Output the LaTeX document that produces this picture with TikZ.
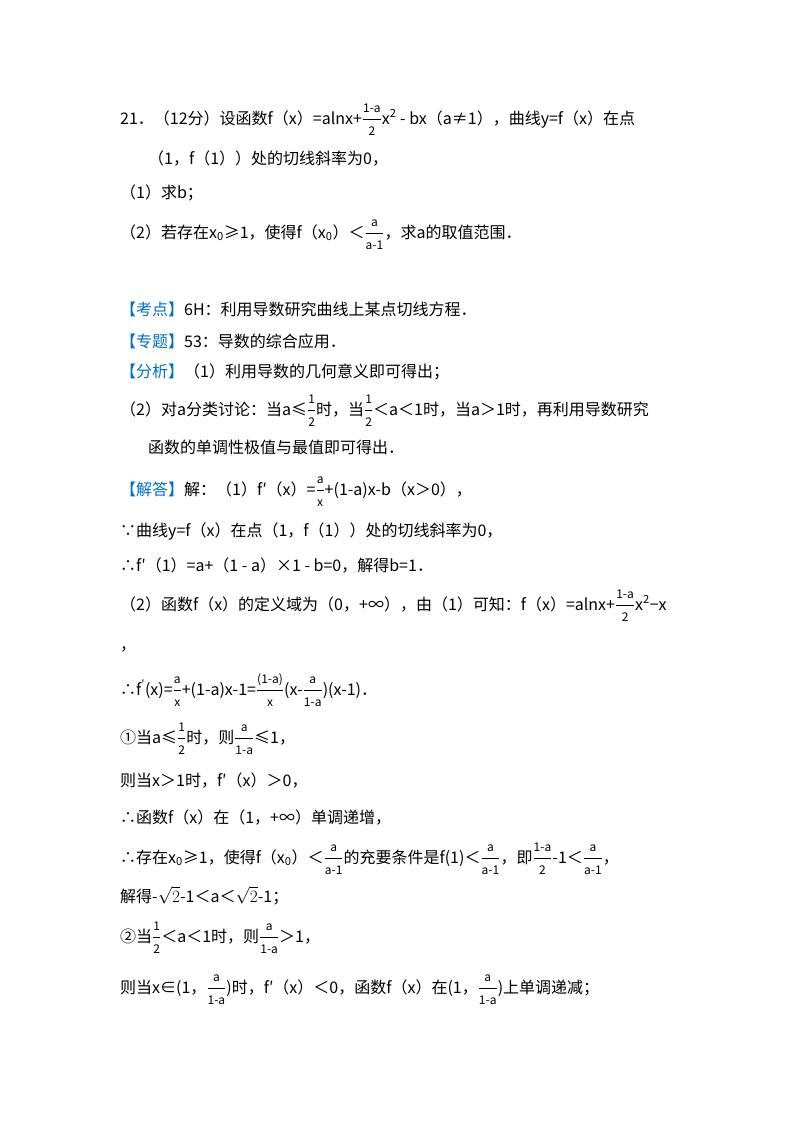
\documentclass[tikz,border=0pt]{standalone}
\usepackage{amsmath,amssymb}
\usepackage{fontspec}
\setmainfont{Noto Sans CJK SC}
\definecolor{kb}{RGB}{0,112,192}
\newcommand{\fr}[2]{$\dfrac{\text{\fontsize{12}{13}\selectfont #1}}{\text{\fontsize{12}{13}\selectfont #2}}$}
\begin{document}
\begin{tikzpicture}[x=1pt,y=-1pt,every node/.style={anchor=base west,inner sep=0pt,font=\fontsize{16}{18}\selectfont}]
\useasboundingbox[fill=white] (0,0) rectangle (800,1132);
\node (l1) at (120,124) {21．（12分）设函数f（x）=alnx+\fr{1-a}{2}x\textsuperscript{2} - bx（a≠1），曲线y=f（x）在点};
\node (l2) at (148,164) {（1，f（1））处的切线斜率为0，};
\node (l3) at (120,198) {（1）求b；};
\node (l4) at (120,238) {（2）若存在x\textsubscript{0}≥1，使得f（x\textsubscript{0}）＜\fr{a}{a-1}，求a的取值范围．};
\node (l5) at (120,315) {\textcolor{kb}{【考点】}6H：利用导数研究曲线上某点切线方程．};
\node (l6) at (120,347) {\textcolor{kb}{【专题】}53：导数的综合应用．};
\node (l7) at (120,377) {\textcolor{kb}{【分析】}（1）利用导数的几何意义即可得出；};
\node (l8) at (120,415) {（2）对a分类讨论：当a≤\fr{1}{2}时，当\fr{1}{2}＜a＜1时，当a＞1时，再利用导数研究};
\node (l9) at (148,453) {函数的单调性极值与最值即可得出．};
\node (l10) at (120,495) {\textcolor{kb}{【解答】}解：（1）f′（x）=\fr{a}{x}+(1-a)x-b（x＞0），};
\node (l11) at (120,536) {∵曲线y=f（x）在点（1，f（1））处的切线斜率为0，};
\node (l12) at (120,571) {∴f′（1）=a+（1 - a）×1 - b=0，解得b=1．};
\node (l13) at (120,610) {（2）函数f（x）的定义域为（0，+∞），由（1）可知：f（x）=alnx+\fr{1-a}{2}x\textsuperscript{2}−x};
\node (l14) at (120,650) {，};
\node (l15) at (120,695) {∴f\textsuperscript{′}(x)=\fr{a}{x}+(1-a)x-1=\fr{(1-a)}{x}(x-\fr{a}{1-a})(x-1)．};
\node (l16) at (120,743) {①当a≤\fr{1}{2}时，则\fr{a}{1-a}≤1，};
\node (l17) at (120,786) {则当x＞1时，f′（x）＞0，};
\node (l18) at (120,823) {∴函数f（x）在（1，+∞）单调递增，};
\node (l19) at (120,863) {∴存在x\textsubscript{0}≥1，使得f（x\textsubscript{0}）＜\fr{a}{a-1}的充要条件是f(1)＜\fr{a}{a-1}，即\fr{1-a}{2}-1＜\fr{a}{a-1}，};
\node (l20) at (120,902) {解得-$\sqrt{2}$-1＜a＜$\sqrt{2}$-1；};
\node (l21) at (120,942) {②当\fr{1}{2}＜a＜1时，则\fr{a}{1-a}＞1，};
\node (l22) at (120,993) {则当x∈(1，\fr{a}{1-a})时，f′（x）＜0，函数f（x）在(1，\fr{a}{1-a})上单调递减；};
\end{tikzpicture}
\end{document}
